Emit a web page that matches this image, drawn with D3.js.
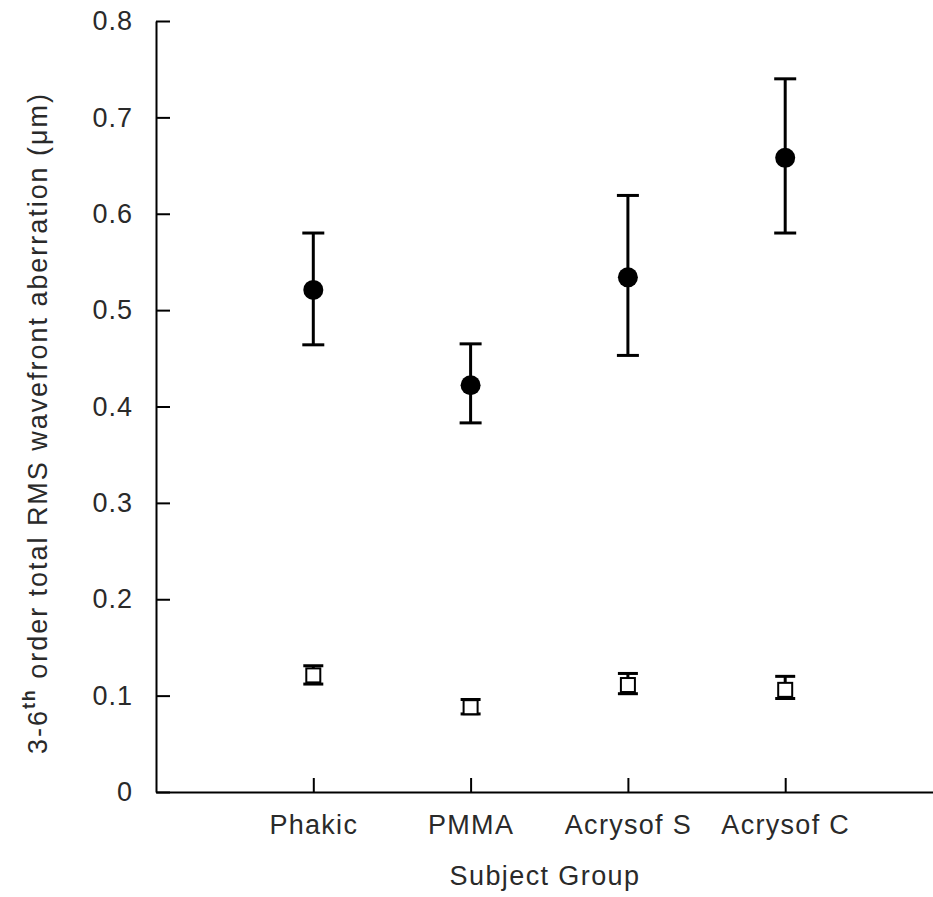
<!DOCTYPE html>
<html><head><meta charset="utf-8">
<script src="https://cdn.jsdelivr.net/npm/d3@7"></script>
<style>
html,body{margin:0;padding:0;background:#fff;}
text{font-family:"Liberation Sans",Arial,sans-serif;fill:#2a2a2a;}
</style></head>
<body>
<svg id="chart" width="933" height="897"></svg>
<script>
const categories = ["Phakic", "PMMA", "Acrysof S", "Acrysof C"];
// filled circles series
const totalMean = [0.521, 0.422, 0.534, 0.658];
const totalLow  = [0.464, 0.383, 0.453, 0.580];
const totalHigh = [0.580, 0.465, 0.619, 0.740];
// open squares series
const otherMean = [0.121, 0.088, 0.111, 0.106];
const otherLow  = [0.112, 0.081, 0.102, 0.097];
const otherHigh = [0.131, 0.096, 0.123, 0.120];
const yTicks = [0, 0.1, 0.2, 0.3, 0.4, 0.5, 0.6, 0.7, 0.8];
const yTickLabels = ["0", "0.1", "0.2", "0.3", "0.4", "0.5", "0.6", "0.7", "0.8"];
const xLabel = "Subject Group";

const svg = d3.select("#chart");
const x = d3.scaleLinear().domain([0, 5]).range([156, 942.5]);
const y = d3.scaleLinear().domain([0, 0.8]).range([792, 21]);

// y axis
const yAxis = svg.append("g").attr("transform", "translate(156,0)")
  .call(d3.axisLeft(y).tickValues(yTicks).tickSize(-14).tickSizeOuter(0).tickPadding(23)
    .tickFormat((d, i) => yTickLabels[i]));
yAxis.select(".domain").attr("stroke", "#000").attr("stroke-width", 2);
yAxis.selectAll(".tick line").attr("stroke", "#000").attr("stroke-width", 2);
yAxis.selectAll(".tick text").attr("font-size", 27).attr("letter-spacing", "1px")
  .attr("font-family", "Liberation Sans").attr("fill", "#2a2a2a");

// x axis
const xAxis = svg.append("g").attr("transform", "translate(0,792)")
  .call(d3.axisBottom(x).tickValues(categories.map((c, i) => i + 1)).tickSize(-14).tickSizeOuter(0).tickPadding(23)
    .tickFormat((d) => categories[d - 1]));
xAxis.select(".domain").attr("stroke", "#000").attr("stroke-width", 2);
xAxis.selectAll(".tick line").attr("stroke", "#000").attr("stroke-width", 2);
xAxis.selectAll(".tick text").attr("font-size", 27).attr("letter-spacing", "1.3px")
  .attr("font-family", "Liberation Sans").attr("fill", "#2a2a2a");

// axis titles
svg.append("text").attr("x", 545).attr("y", 885).attr("text-anchor", "middle")
  .attr("font-size", 27).attr("letter-spacing", "1.4px").text(xLabel);

const yl = svg.append("text").attr("transform", "translate(47,424) rotate(-90)")
  .attr("text-anchor", "middle").attr("font-size", 27);
yl.append("tspan").text("3-6");
yl.append("tspan").attr("font-size", 18).attr("font-weight", "bold").attr("dy", -12).text("th");
yl.append("tspan").attr("dy", 12).text(" order total RMS wavefront aberration (\u03bcm)");
yl.attr("textLength", 660).attr("lengthAdjust", "spacing");

const capW = 22;
function errorBars(g, means, lows, highs, cw) {
  means.forEach((m, i) => {
    const cx = x(i + 1);
    g.append("line").attr("x1", cx).attr("x2", cx).attr("y1", y(lows[i])).attr("y2", y(highs[i]))
      .attr("stroke", "#000").attr("stroke-width", 3);
    [lows[i], highs[i]].forEach(v => {
      g.append("line").attr("x1", cx - cw / 2).attr("x2", cx + cw / 2).attr("y1", y(v)).attr("y2", y(v))
        .attr("stroke", "#000").attr("stroke-width", 3);
    });
  });
}
const g1 = svg.append("g");
errorBars(g1, totalMean, totalLow, totalHigh, capW);
g1.selectAll("circle").data(totalMean).join("circle")
  .attr("cx", (d, i) => x(i + 1)).attr("cy", d => y(d)).attr("r", 10).attr("fill", "#000");

const g2 = svg.append("g");
errorBars(g2, otherMean, otherLow, otherHigh, 20);
g2.selectAll("rect").data(otherMean).join("rect")
  .attr("x", (d, i) => x(i + 1) - 7).attr("y", d => y(d) - 7).attr("width", 14).attr("height", 14)
  .attr("fill", "#fff").attr("stroke", "#000").attr("stroke-width", 2);
</script>
</body></html>
